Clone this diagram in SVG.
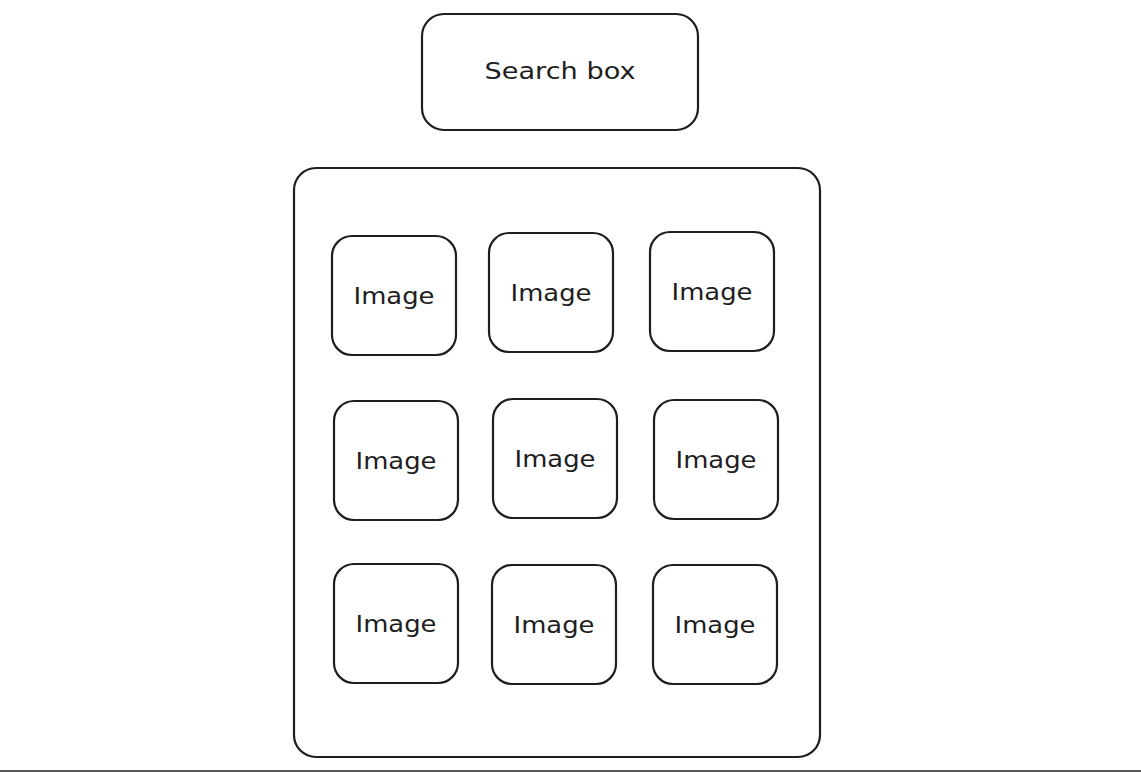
<svg xmlns="http://www.w3.org/2000/svg" width="1141" height="772" viewBox="0 0 1141 772">
<style>
.box{fill:#fff;stroke:#1e1e1e;stroke-width:2.2}
.lbl{font-family:"DejaVu Sans","Liberation Sans",sans-serif;font-size:23px;fill:#1e1e1e;text-anchor:middle;dominant-baseline:central}
</style>
<rect width="1141" height="772" fill="#fff"/>
<g id="search">
<rect class="box" x="422" y="14" width="276" height="116" rx="22"/>
<text class="lbl" x="560" y="71" textLength="151" lengthAdjust="spacingAndGlyphs">Search box</text>
</g>
<g id="container">
<rect class="box" x="294" y="168" width="526" height="589" rx="22"/>
</g>
<g id="img1"><rect class="box" x="332" y="236" width="124" height="119" rx="20"/><text class="lbl" x="394" y="296" textLength="81" lengthAdjust="spacingAndGlyphs">Image</text></g>
<g id="img2"><rect class="box" x="489" y="233" width="124" height="119" rx="20"/><text class="lbl" x="551" y="293" textLength="81" lengthAdjust="spacingAndGlyphs">Image</text></g>
<g id="img3"><rect class="box" x="650" y="232" width="124" height="119" rx="20"/><text class="lbl" x="712" y="292" textLength="81" lengthAdjust="spacingAndGlyphs">Image</text></g>
<g id="img4"><rect class="box" x="334" y="401" width="124" height="119" rx="20"/><text class="lbl" x="396" y="461" textLength="81" lengthAdjust="spacingAndGlyphs">Image</text></g>
<g id="img5"><rect class="box" x="493" y="399" width="124" height="119" rx="20"/><text class="lbl" x="555" y="459" textLength="81" lengthAdjust="spacingAndGlyphs">Image</text></g>
<g id="img6"><rect class="box" x="654" y="400" width="124" height="119" rx="20"/><text class="lbl" x="716" y="460" textLength="81" lengthAdjust="spacingAndGlyphs">Image</text></g>
<g id="img7"><rect class="box" x="334" y="564" width="124" height="119" rx="20"/><text class="lbl" x="396" y="624" textLength="81" lengthAdjust="spacingAndGlyphs">Image</text></g>
<g id="img8"><rect class="box" x="492" y="565" width="124" height="119" rx="20"/><text class="lbl" x="554" y="625" textLength="81" lengthAdjust="spacingAndGlyphs">Image</text></g>
<g id="img9"><rect class="box" x="653" y="565" width="124" height="119" rx="20"/><text class="lbl" x="715" y="625" textLength="81" lengthAdjust="spacingAndGlyphs">Image</text></g>
<g id="connectors"></g>
<line x1="0" y1="771" x2="1141" y2="771" stroke="#1e1e1e" stroke-width="1.5"/>
</svg>
